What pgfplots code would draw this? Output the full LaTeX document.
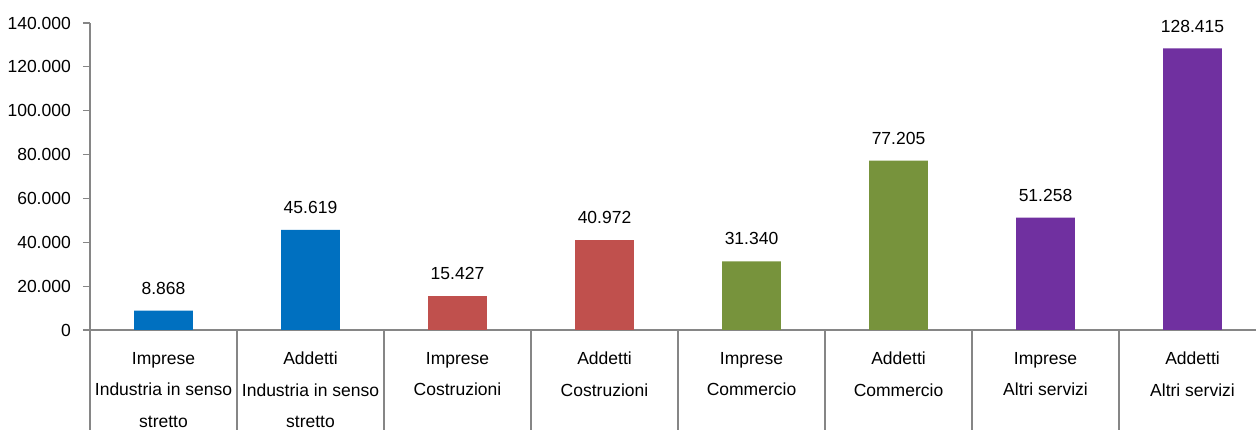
\documentclass[border=0pt]{standalone}
\usepackage{pgfplots}
\pgfplotsset{compat=1.18}
\usepackage{fontspec}
\setmainfont{Liberation Sans}
\definecolor{cblue}{HTML}{0070C0}
\definecolor{cred}{HTML}{C0504D}
\definecolor{cgreen}{HTML}{77933C}
\definecolor{cpurple}{HTML}{7030A0}
\definecolor{axgray}{HTML}{868686}
\begin{document}
\fontsize{17.5}{21}\selectfont
\begin{tikzpicture}
\begin{axis}[
  at={(90pt,100pt)}, anchor=south west,
  scale only axis, width=1166pt, height=307pt,
  xmin=-0.5, xmax=7.432, ymin=0, ymax=140000,
  axis x line*=bottom, axis y line*=left,
  axis line style={-, draw=axgray, line width=1.2pt},
  clip=false,
  ybar,
  ytick={0,20000,...,140000},
  scaled y ticks=false,
  /pgf/number format/.cd, fixed, precision=0, 1000 sep={.}, assume math mode=true, /pgfplots/.cd,
  tick align=outside,
  major tick length=7pt,
  ytick style={draw=axgray, line width=1.2pt},
  xtick={0,...,7},
  xtick style={draw=none},
  xticklabels={{Imprese\\Industria in senso\\stretto},{Addetti\\Industria in senso\\stretto},{Imprese\\Costruzioni},{Addetti\\Costruzioni},{Imprese\\Commercio},{Addetti\\Commercio},{Imprese\\Altri servizi},{Addetti\\Altri servizi}},
  xticklabel style={align=center, anchor=north, inner sep=0pt, yshift=-15pt, font=\fontsize{17.5}{31.5}\selectfont},
  yticklabel style={inner sep=0pt, xshift=-12pt, font=\fontsize{17.5}{21}\selectfont},
  nodes near coords,
  every node near coord/.append style={anchor=south, inner sep=0pt, yshift=16pt, text=black, font=\fontsize{17.5}{21}\selectfont},
]
\addplot[ybar, bar width=0.4, bar shift=0pt, fill=cblue, draw=none] coordinates {(0,8868) (1,45619)};
\addplot[ybar, bar width=0.4, bar shift=0pt, fill=cred, draw=none] coordinates {(2,15427) (3,40972)};
\addplot[ybar, bar width=0.4, bar shift=0pt, fill=cgreen, draw=none] coordinates {(4,31340) (5,77205)};
\addplot[ybar, bar width=0.4, bar shift=0pt, fill=cpurple, draw=none] coordinates {(6,51258) (7,128415)};
\pgfplotsinvokeforeach{-0.5,0.5,1.5,2.5,3.5,4.5,5.5,6.5}{
  \draw[axgray, line width=1.2pt] (axis cs:#1,0) -- ++(0pt,-100pt);
}
\end{axis}
\pgfresetboundingbox
\path[use as bounding box] (0pt,0pt) rectangle (1256pt,430pt);
\end{tikzpicture}
\end{document}
